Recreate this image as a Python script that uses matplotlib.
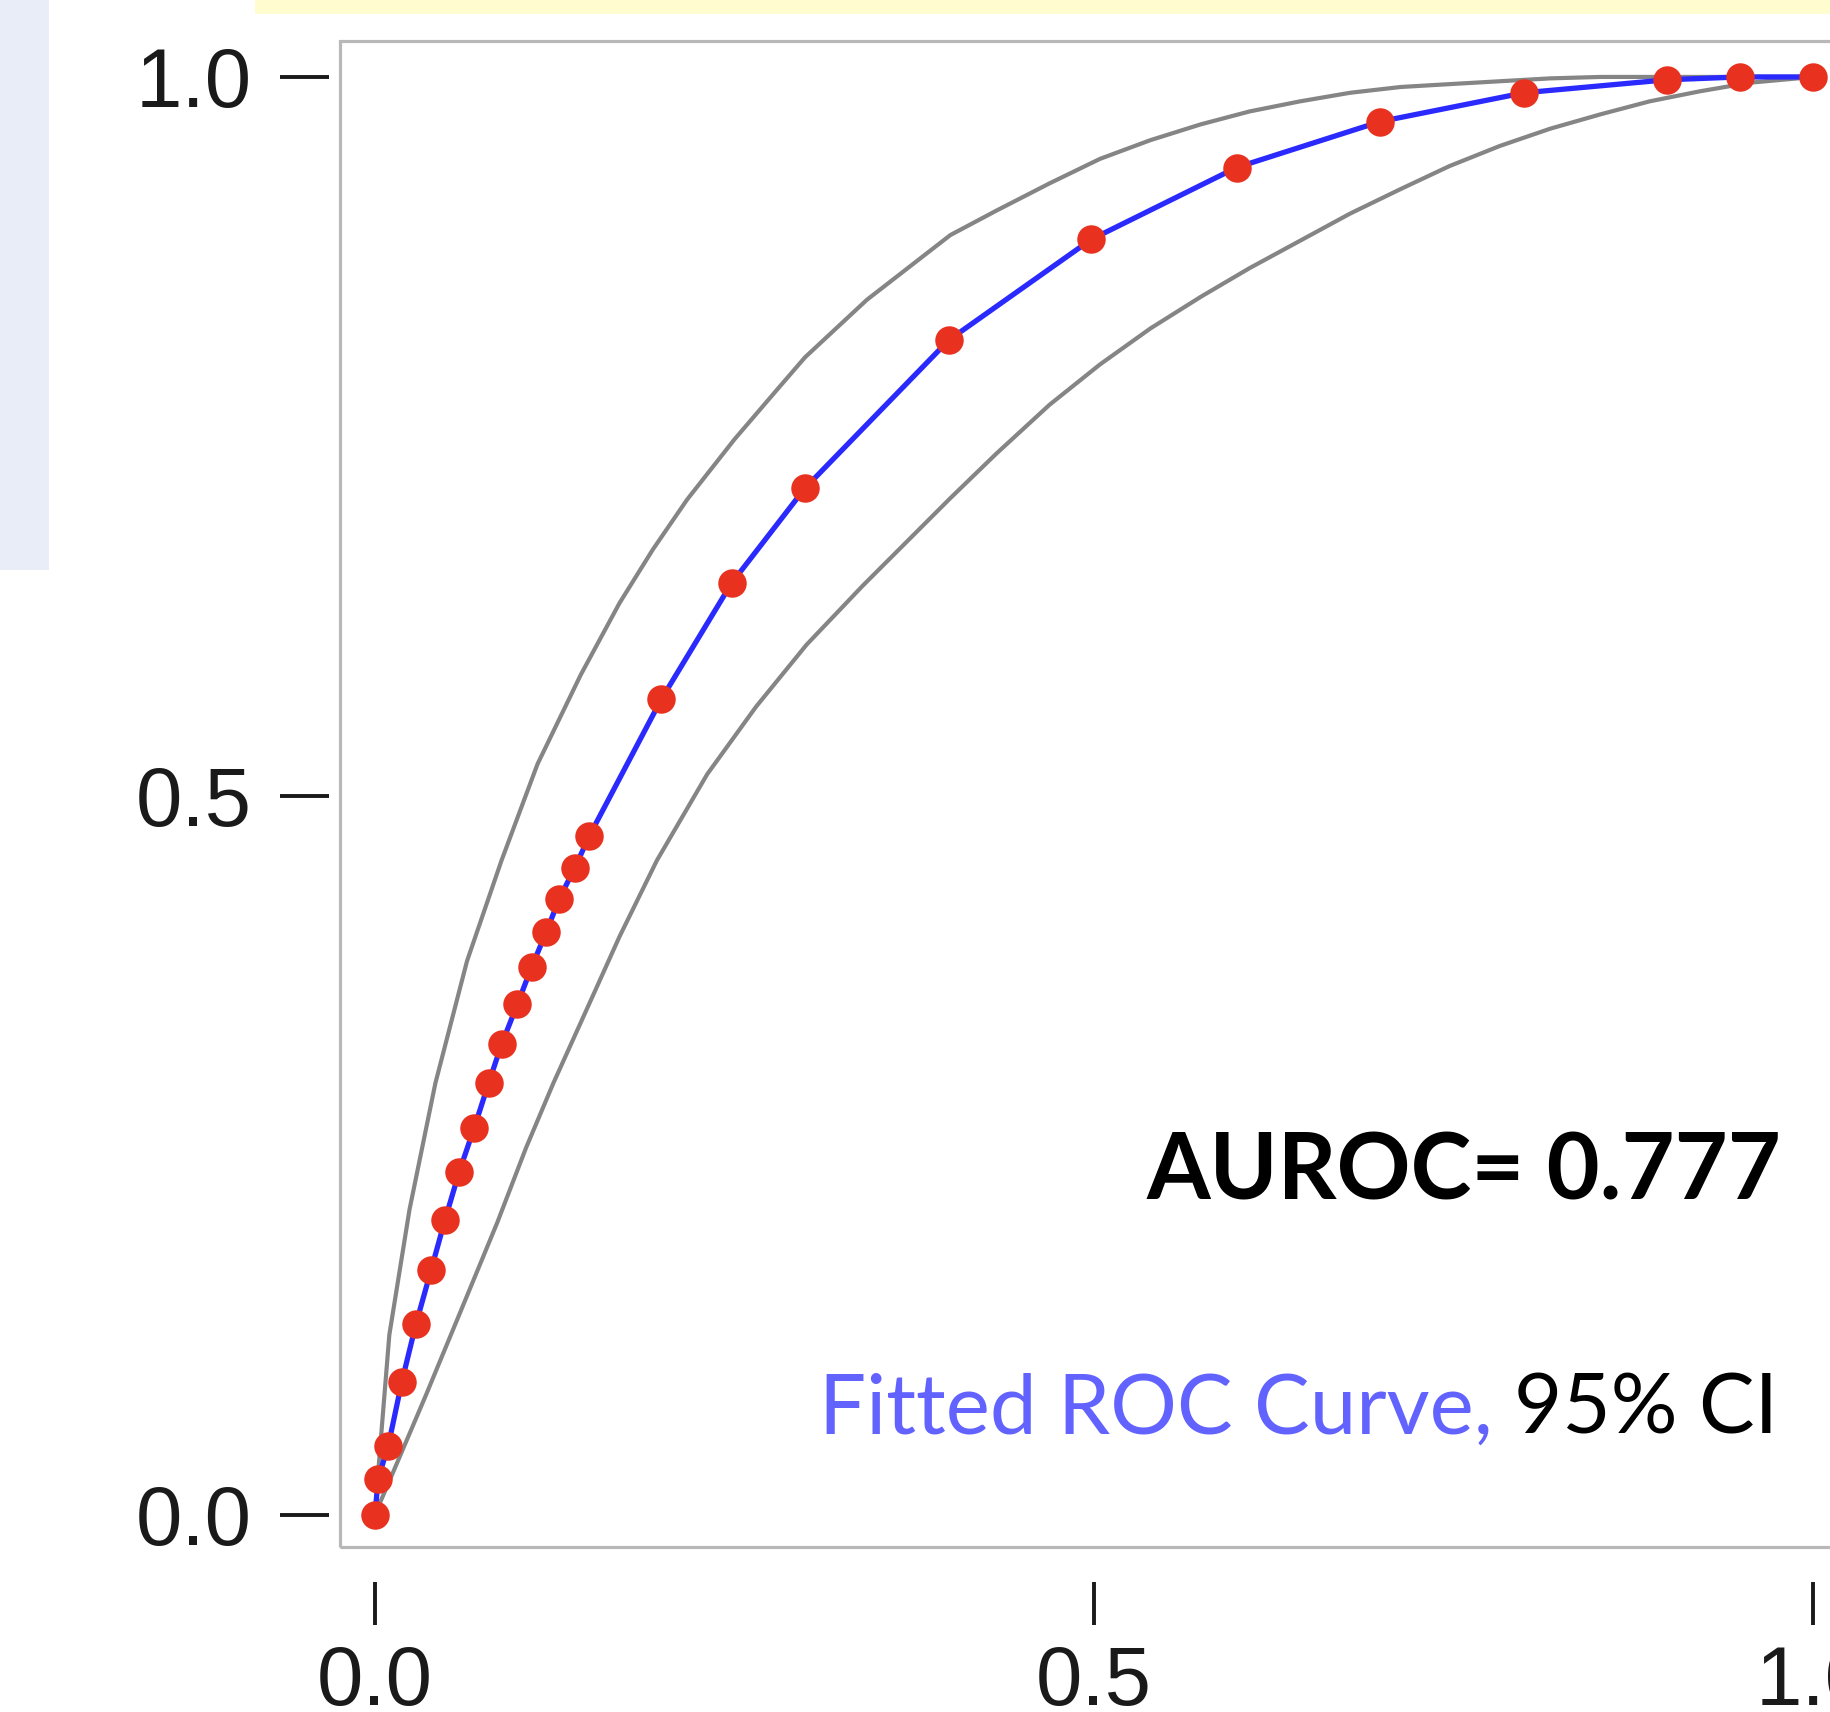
import matplotlib.pyplot as plt
from matplotlib.patches import Rectangle

# Fitted ROC points (false positive fraction, true positive fraction)
roc_fpf = [0.0, 0.0023, 0.0093, 0.0186, 0.0285, 0.039, 0.0487, 0.0586, 0.069,
           0.079, 0.088, 0.099, 0.109, 0.119, 0.128, 0.139, 0.149, 0.199,
           0.248, 0.299, 0.399, 0.498, 0.599, 0.699, 0.799, 0.898, 0.949, 1.0]
roc_tpf = [0.0, 0.025, 0.048, 0.092, 0.1325, 0.170, 0.205, 0.2385, 0.269,
           0.300, 0.327, 0.355, 0.381, 0.405, 0.428, 0.450, 0.472, 0.567,
           0.648, 0.714, 0.817, 0.887, 0.937, 0.969, 0.989, 0.998, 1.0, 1.0]

# 95% CI bands
upper_x = [0.0, 0.0035, 0.010, 0.024, 0.042, 0.064, 0.088, 0.113, 0.143, 0.170,
           0.193, 0.217, 0.250, 0.280, 0.299, 0.342, 0.400, 0.432, 0.469, 0.504,
           0.539, 0.574, 0.608, 0.643, 0.678, 0.713, 0.747, 0.782, 0.817, 0.852, 1.0]
upper_y = [0.0, 0.045, 0.125, 0.212, 0.300, 0.385, 0.455, 0.522, 0.584, 0.634,
           0.671, 0.706, 0.748, 0.783, 0.805, 0.845, 0.890, 0.907, 0.926, 0.943,
           0.956, 0.967, 0.976, 0.983, 0.989, 0.993, 0.995, 0.997, 0.999, 1.0, 1.0]
lower_x = [0.0, 0.015, 0.035, 0.059, 0.085, 0.105, 0.124, 0.152, 0.170, 0.196,
           0.231, 0.265, 0.300, 0.339, 0.400, 0.432, 0.469, 0.504, 0.539, 0.574,
           0.608, 0.643, 0.678, 0.713, 0.747, 0.782, 0.817, 0.852, 0.886, 0.921,
           0.956, 1.0]
lower_y = [0.0, 0.035, 0.082, 0.140, 0.203, 0.255, 0.300, 0.362, 0.402, 0.455,
           0.515, 0.562, 0.605, 0.646, 0.707, 0.738, 0.772, 0.800, 0.825, 0.847,
           0.867, 0.886, 0.905, 0.922, 0.938, 0.952, 0.964, 0.974, 0.983, 0.990,
           0.996, 1.0]

ticks = [0.0, 0.5, 1.0]
tick_labels = ["0.0", "0.5", "1.0"]
auroc_text = "AUROC= 0.777"

W, H = 1831, 1712
fig = plt.figure(figsize=(W / 100, H / 100), dpi=100)

# Background bits from the surrounding slide
fig.add_artist(Rectangle((0, 1 - 570 / H), 49 / W, 570 / H, transform=fig.transFigure,
                         color="#e8edf7", lw=0))
fig.add_artist(Rectangle((255 / W, 1 - 14 / H), 1 - 255 / W, 14 / H, transform=fig.transFigure,
                         color="#fffdd0", lw=0))

ax = fig.add_axes([340 / W, 165 / H, 1531 / W, 1506 / H])
ax.set_xlim(-0.0243, 1.04)
ax.set_ylim(-0.0226, 1.025)

# CI curves, then fitted curve with points
ax.plot(upper_x, upper_y, color="#858585", lw=3.0, zorder=2)
ax.plot(lower_x, lower_y, color="#858585", lw=3.0, zorder=2)
ax.plot(roc_fpf, roc_tpf, color="#2a2aff", lw=3.8, zorder=3)
ax.plot(roc_fpf, roc_tpf, ls="none", marker="o", ms=20.5, color="#e8321f", mec="none", zorder=4)

# Frame drawn separately so the ticks can sit away from it
for s in ax.spines.values():
    s.set_edgecolor("none")
ax.spines["left"].set_position(("outward", 7.6))
ax.spines["bottom"].set_position(("outward", 25))
ax.add_patch(Rectangle((0, 0), 1, 1, transform=ax.transAxes, fill=False,
                       ec="#b8b8b8", lw=2.3, clip_on=False, zorder=5))

ax.set_xticks(ticks, tick_labels)
ax.set_yticks(ticks, tick_labels)
ax.tick_params(axis="y", length=35, width=2.8, color="#1a1a1a", pad=21,
               labelsize=60, labelcolor="#1a1a1a")
ax.tick_params(axis="x", length=31, width=2.8, color="#1a1a1a", pad=14,
               labelsize=60, labelcolor="#1a1a1a")
for lab in ax.get_xticklabels() + ax.get_yticklabels():
    lab.set_family("Liberation Sans")

# Annotations
fig.text(1781 / W, 1 - 1200 / H, auroc_text, ha="right", va="baseline",
         fontsize=66, fontweight="bold", family="Lato", color="black")
ci = fig.text(1778 / W, 1 - 1434 / H, "95% CI", ha="right", va="baseline",
              fontsize=60, family="Lato", color="black")
ax.annotate("Fitted ROC Curve,", xy=(0, 0), xycoords=ci, xytext=(-15, 0),
            textcoords="offset points", ha="right", va="bottom",
            fontsize=60, family="Lato", color="#6262ff")

fig.savefig("out.png", dpi=100)
